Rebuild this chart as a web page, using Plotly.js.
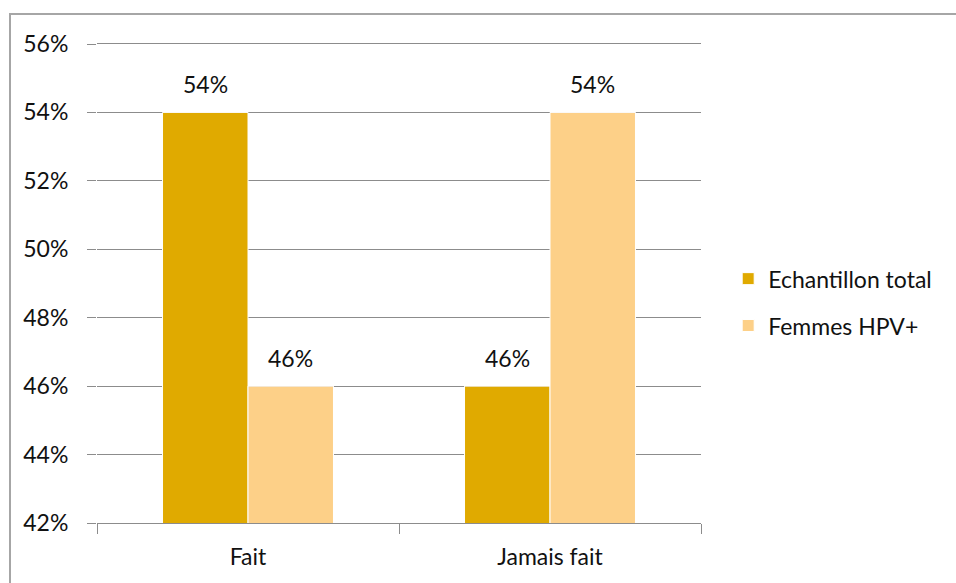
<!DOCTYPE html>
<html>
<head>
<meta charset="utf-8">
<script src="https://cdn.plot.ly/plotly-3.0.1.min.js"></script>
<style>
  html, body { margin: 0; padding: 0; background: #fff; }
  #wrap { position: relative; width: 956px; height: 583px; }
  #chart { width: 956px; height: 583px; }
  #frame {
    position: absolute; left: 9px; top: 13px; right: -4px; bottom: -4px;
    border-left: 2px solid #a6a6a6; border-top: 2px solid #a6a6a6;
    pointer-events: none;
  }
</style>
</head>
<body>
<div id="wrap">
  <div id="chart"></div>
  <div id="frame"></div>
</div>
<script>
// Categories and series
const categories = ["Fait", "Jamais fait"];
const seriesNames = ["Echantillon total", "Femmes HPV+"];
const echantillonTotal = [54, 46];
const femmesHPV = [46, 54];
const yTicks = [42, 44, 46, 48, 50, 52, 54, 56];

const colors = ["#E0AA00", "#FDD088"];
const fontFamily = "Lato, 'Open Sans', sans-serif";
const gridColor = "#8c8c8c";

const seriesValues = [echantillonTotal, femmesHPV];

// bars rise from zero and are clipped at the 42% floor of the axis
const traces = seriesValues.map((vals, i) => ({
  type: "bar",
  name: seriesNames[i],
  legendgroup: "g" + i,
  x: categories,
  y: vals,
  marker: { color: colors[i], line: { color: "#ffffff", width: 1 } },
  hoverinfo: "skip"
}));

// value labels above each bar, offset to each bar's slot in its group
const bargap = 0.434;
const slot = (1 - bargap) / seriesValues.length;
const annotations = [];
seriesValues.forEach((vals, i) => {
  vals.forEach((v, j) => {
    annotations.push({
      x: j - (1 - bargap) / 2 + slot * (i + 0.5),
      y: v,
      xref: "x", yref: "y",
      text: v + "%",
      showarrow: false,
      yanchor: "middle",
      yshift: 28,
      font: { family: fontFamily, size: 23, color: "#111" }
    });
  });
});

const layout = {
  width: 956,
  height: 583,
  margin: { l: 97, r: 255, t: 44, b: 60 },
  paper_bgcolor: "#ffffff",
  plot_bgcolor: "#ffffff",
  barmode: "group",
  bargap: bargap,
  bargroupgap: 0,
  font: { family: fontFamily, size: 23, color: "#111" },
  xaxis: {
    type: "category",
    tickson: "boundaries",
    ticks: "outside",
    ticklen: 10,
    tickcolor: gridColor,
    showline: true,
    mirror: true,
    linecolor: gridColor,
    linewidth: 1,
    showgrid: false,
    ticklabelstandoff: 13,
    tickfont: { family: fontFamily, size: 23, color: "#111" }
  },
  yaxis: {
    range: [42, 56],
    tickvals: yTicks,
    ticktext: yTicks.map(v => v + "%"),
    showgrid: true,
    gridcolor: gridColor,
    gridwidth: 1,
    ticks: "outside",
    ticklen: 9,
    tickcolor: gridColor,
    showline: false,
    zeroline: false,
    ticklabelstandoff: 14,
    tickfont: { family: fontFamily, size: 23, color: "#111" }
  },
  legend: {
    x: 1.045,
    xanchor: "left",
    y: 0.461,
    yanchor: "middle",
    traceorder: "grouped",
    tracegroupgap: 14,
    font: { family: fontFamily, size: 23, color: "#111" },
    bgcolor: "rgba(0,0,0,0)"
  },
  annotations: annotations,
  showlegend: true
};

Plotly.newPlot("chart", traces, layout, { displayModeBar: false, staticPlot: true });
</script>
</body>
</html>
